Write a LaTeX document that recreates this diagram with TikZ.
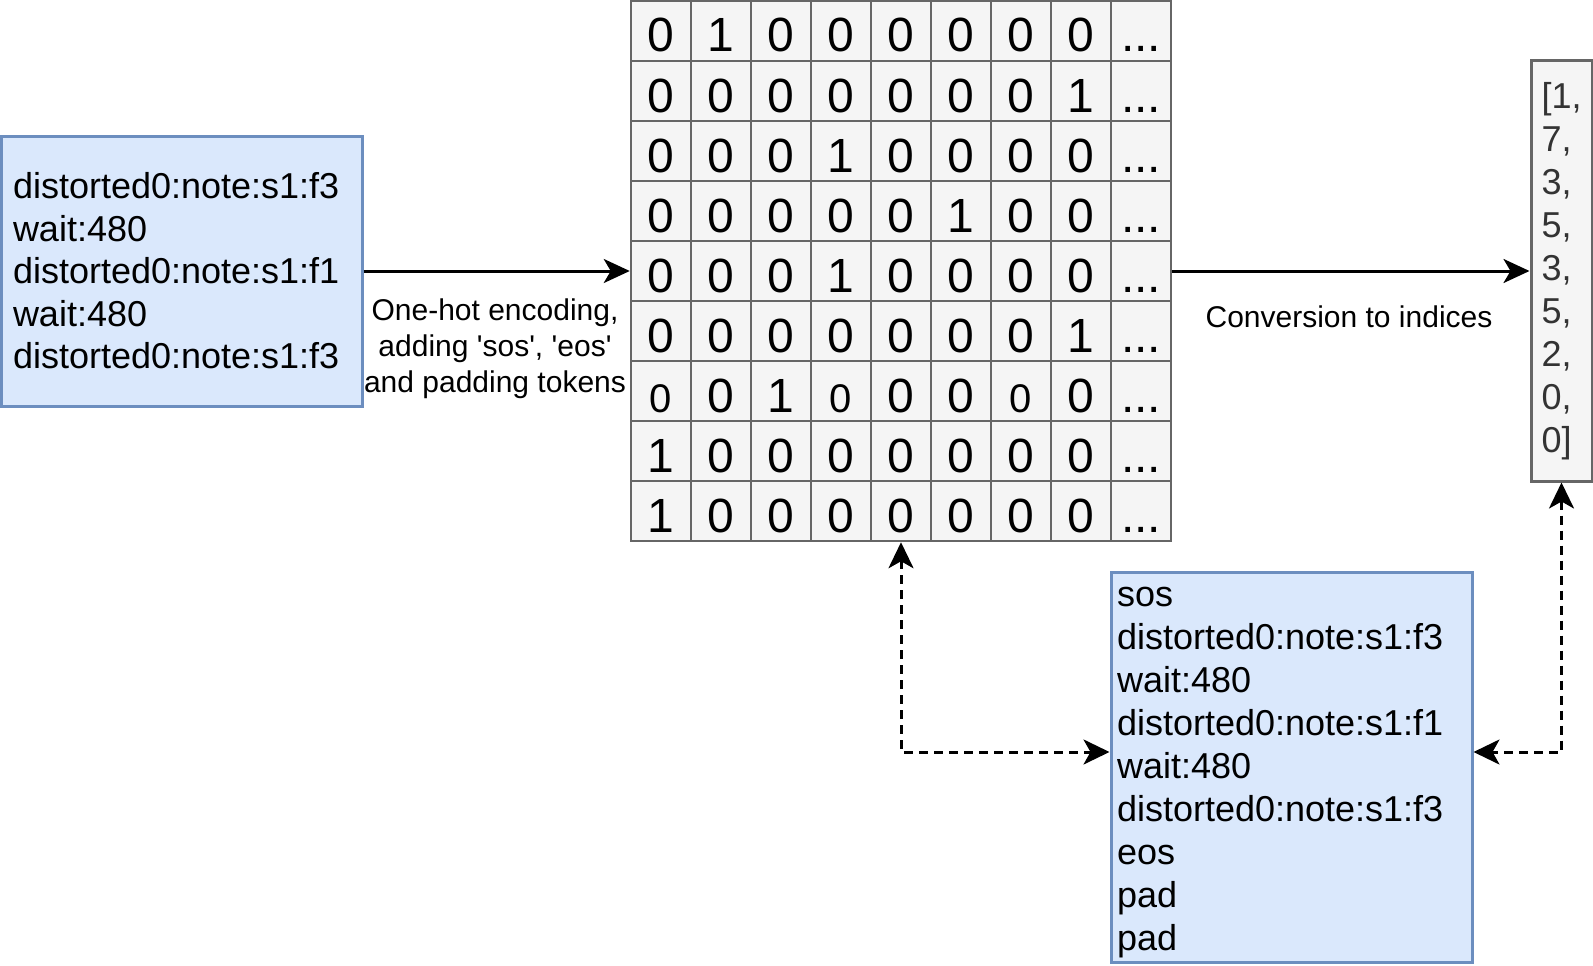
\documentclass[tikz,border=0pt]{standalone}
\usepackage{fontspec}
\setmainfont{Liberation Sans}
\usetikzlibrary{arrows.meta}
\definecolor{bluefill}{HTML}{DAE8FC}
\definecolor{blueline}{HTML}{6C8EBF}
\definecolor{grayfill}{HTML}{F5F5F5}
\definecolor{grayline}{HTML}{666666}
\definecolor{graytext}{HTML}{333333}
\def\smallmark{s}
\begin{document}
\begin{tikzpicture}[x=1pt,y=-1pt,
  bluebox/.style={draw=blueline, fill=bluefill, line width=3pt, rectangle, inner sep=0pt, align=left},
  graybox/.style={draw=grayline, fill=grayfill, line width=3pt, rectangle, inner sep=0pt, align=left, text=graytext},
  cell/.style={draw=grayline, fill=grayfill, line width=2.5pt, minimum width=60pt, minimum height=60pt, inner sep=0pt, text height=42pt, text depth=0pt, font=\fontsize{48}{57}\selectfont},
  lbl/.style={align=center, inner sep=0pt, font=\fontsize{30}{36}\selectfont},
  solidarrow/.style={line width=3pt, -{Stealth[length=26pt,width=24pt,inset=7pt]}},
  dasharrow/.style={line width=3pt, dash pattern=on 9pt off 6pt, {Stealth[length=26pt,width=25pt,inset=7pt]}-{Stealth[length=26pt,width=25pt,inset=7pt]}}
]
\useasboundingbox (0,0) rectangle (1593,966);

% left input box
\node[bluebox, font=\fontsize{36}{42.5}\selectfont, minimum width=361pt, minimum height=270pt, text width=337pt] (lbox) at (181.5,271)
  {distorted0:note:s1:f3\\wait:480\\distorted0:note:s1:f1\\wait:480\\distorted0:note:s1:f3};

% one-hot matrix
\foreach \rowdata [count=\r] in {{0,1,0,0,0,0,0,0},{0,0,0,0,0,0,0,1},{0,0,0,1,0,0,0,0},{0,0,0,0,0,1,0,0},{0,0,0,1,0,0,0,0},{0,0,0,0,0,0,0,1},{s,0,1,s,0,0,s,0},{1,0,0,0,0,0,0,0},{1,0,0,0,0,0,0,0}}{
  \foreach \v [count=\c] in \rowdata {
    \node[cell] (m-\r-\c) at ({661+60*(\c-1)}, {31+60*(\r-1)}) {\ifx\v\smallmark{\fontsize{40}{48}\selectfont 0}\else\v\fi};
  }
  \node[cell] (m-\r-9) at (1141, {31+60*(\r-1)}) {...};
}

% index vector box
\node[graybox, font=\fontsize{36}{43}\selectfont, minimum width=61pt, minimum height=420pt, text width=40pt] (rbox) at (1561.5,271)
  {[1,\\7,\\3,\\5,\\3,\\5,\\2,\\0,\\0]};

% token sequence box
\node[bluebox, font=\fontsize{36}{43}\selectfont, minimum width=361pt, minimum height=390pt, text width=349pt] (bbox) at (1291.5,767)
  {\rule{0pt}{30.7pt}sos\\distorted0:note:s1:f3\\wait:480\\distorted0:note:s1:f1\\wait:480\\distorted0:note:s1:f3\\eos\\pad\\pad};

% connectors
\draw[solidarrow] (lbox.east) -- (m-5-1.west);
\draw[solidarrow] (m-5-9.east) -- (rbox.west);
\draw[dasharrow] (m-9-5.south) |- ([yshift=15pt]bbox.west);
\draw[dasharrow] (rbox.south) |- ([yshift=15pt]bbox.east);

% labels
\node[lbl] (l1) at (495,349) {One-hot encoding,\\adding \textquotesingle sos\textquotesingle, \textquotesingle eos\textquotesingle\\and padding tokens};
\node[lbl] (l2) at (1349,317) {Conversion to indices};
\end{tikzpicture}
\end{document}
